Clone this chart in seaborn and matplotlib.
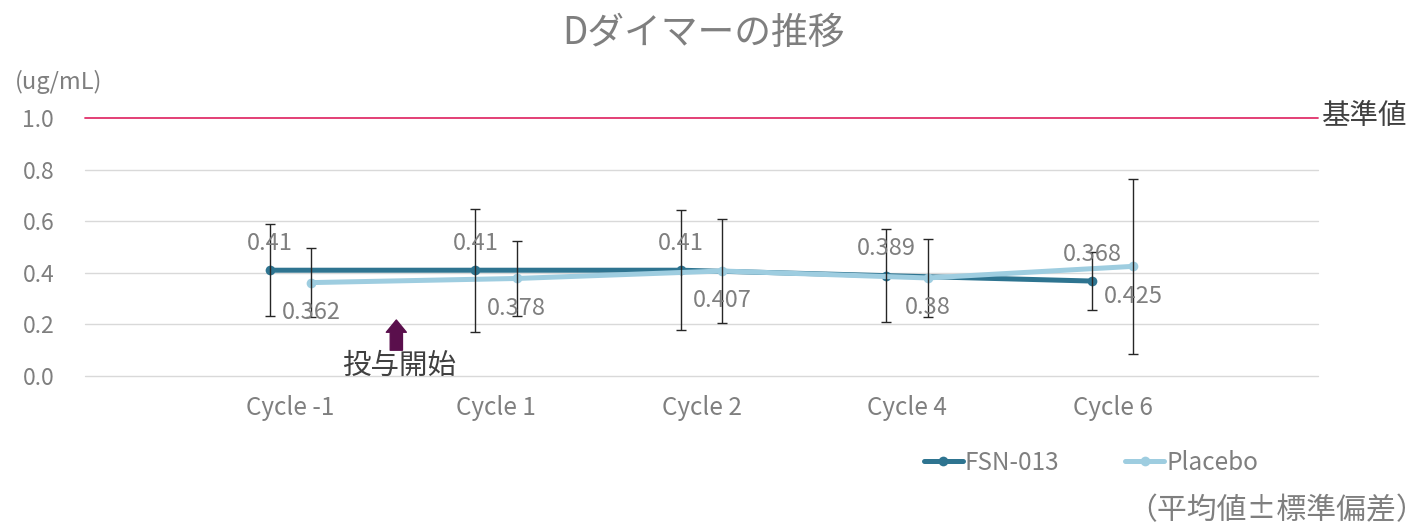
import matplotlib
matplotlib.use("Agg")
import matplotlib.pyplot as plt
import seaborn as sns
import pandas as pd
import numpy as np

# ---- data ----
cycles = ["Cycle -1", "Cycle 1", "Cycle 2", "Cycle 4", "Cycle 6"]
groups = ["FSN-013", "Placebo"]
fsn_mean = [0.41, 0.41, 0.41, 0.389, 0.368]
fsn_sd = [0.178, 0.238, 0.232, 0.181, 0.113]
pla_mean = [0.362, 0.378, 0.407, 0.38, 0.425]
pla_sd = [0.133, 0.145, 0.200, 0.151, 0.339]
reference_value = 1.0
yticks = [0.0, 0.2, 0.4, 0.6, 0.8, 1.0]

# ---- style ----
sns.set_theme(style="white")
plt.rcParams["font.family"] = ["Noto Sans CJK JP", "DejaVu Sans"]

colors = {"FSN-013": "#2E7490", "Placebo": "#9ECDE0"}
offsets = {"FSN-013": -0.1, "Placebo": 0.1}
grey = "#7F7F7F"
dark = "#404040"

rows = []
for g, means, sds in [("FSN-013", fsn_mean, fsn_sd), ("Placebo", pla_mean, pla_sd)]:
    for i, (c, m, s) in enumerate(zip(cycles, means, sds)):
        rows.append({"cycle": c, "group": g, "mean": m, "sd": s,
                     "xpos": i + offsets[g]})
df = pd.DataFrame(rows)

fig = plt.figure(figsize=(14.28, 5.28), dpi=100)
ax = fig.add_axes([85 / 1428, 1 - 376 / 528, (1318 - 85) / 1428, (376 - 118) / 528])

# grid lines
for yv in yticks[:-1]:
    ax.axhline(yv, color="#D9D9D9", lw=1.0, zorder=0, clip_on=False)
ax.axhline(reference_value, color="#E0306A", lw=1.3, zorder=1, clip_on=False)

sns.lineplot(data=df, x="xpos", y="mean", hue="group", hue_order=groups,
             palette=colors, marker="o", markersize=7, markeredgewidth=0,
             linewidth=3.6, ax=ax, zorder=3, legend=True)

for g in groups:
    sub = df[df.group == g]
    ax.errorbar(sub["xpos"], sub["mean"], yerr=sub["sd"], fmt="none",
                ecolor="#262626", elinewidth=1.0, capsize=3.5, capthick=1.0,
                zorder=4, clip_on=False)
    for _, r in sub.iterrows():
        dy = 27 if g == "FSN-013" else -30
        ax.annotate(f"{r['mean']:g}", xy=(r["xpos"], r["mean"]),
                    xytext=(0, dy), textcoords="offset pixels",
                    ha="center", va="center", fontsize=17, color=grey,
                    zorder=5)

ax.set_xlim(-1, 5)
ax.set_ylim(0, 1.0)
ax.set_xticks(range(len(cycles)))
ax.set_xticklabels(cycles)
ax.set_yticks(yticks)
ax.set_yticklabels([f"{v:.1f}" for v in yticks])
ax.tick_params(axis="x", length=0, pad=14, labelsize=17.5, labelcolor=grey)
ax.tick_params(axis="y", length=0, pad=45, labelsize=16.5, labelcolor=grey)
for lab in ax.get_yticklabels():
    lab.set_horizontalalignment("left")
ax.set_xlabel("")
ax.set_ylabel("")
for s in ax.spines.values():
    s.set_visible(False)

# legend
handles, labels = ax.get_legend_handles_labels()
ax.legend(handles, labels, loc="center", ncol=2, frameon=False,
          bbox_to_anchor=(1091 / 1428, 1 - 463 / 528),
          bbox_transform=fig.transFigure, fontsize=17.5, labelcolor=grey,
          handlelength=1.6, handletextpad=0.1, columnspacing=2.7)

# arrow & annotation
ax.annotate("", xy=(0.515, 0.217), xytext=(0.515, 0.10),
            arrowprops=dict(arrowstyle="simple,head_width=0.9,head_length=0.55,tail_width=0.55",
                            color="#5A0F4C", mutation_scale=16, shrinkA=0, shrinkB=0))
ax.text(0.53, 0.04, "投与開始", ha="center", va="center", fontsize=20.5, color=dark)

# texts
fig.text(704 / 1428, 1 - 33 / 528, "Dダイマーの推移", ha="center", va="center",
         fontsize=26.5, color=grey)
fig.text(15 / 1428, 1 - 82 / 528, "(ug/mL)", ha="left", va="center",
         fontsize=17, color=grey)
fig.text(1322 / 1428, 1 - 116 / 528, "基準値", ha="left", va="center",
         fontsize=20.5, color=dark)
fig.text(1426 / 1428, 1 - 511 / 528, "（平均値±標準偏差）", ha="right", va="center",
         fontsize=21.5, color=grey)

fig.savefig("out.png", dpi=100)
